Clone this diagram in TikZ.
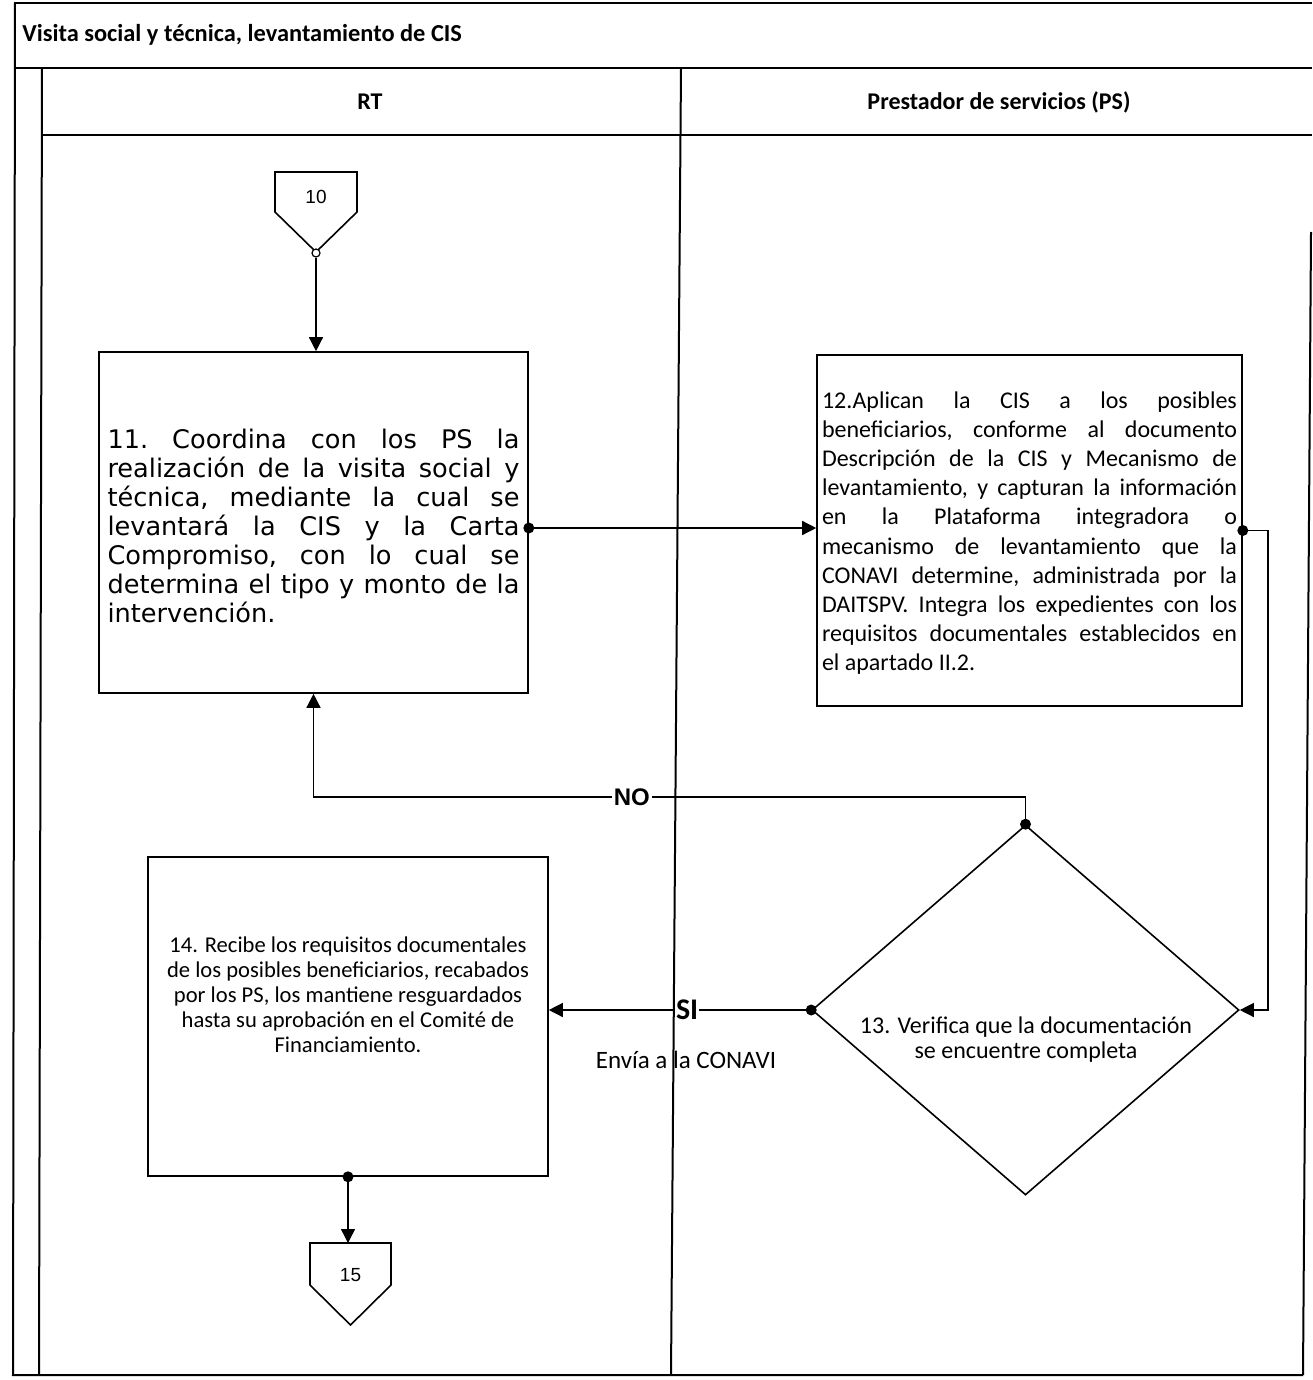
\documentclass[tikz,border=0pt]{standalone}
\usepackage{fontspec}
\setmainfont{Carlito}
\newfontfamily\widesans{DejaVu Sans}
\newfontfamily\plainsans{Liberation Sans}
\usetikzlibrary{arrows.meta,shapes.geometric,calc}

\begin{document}
\begin{tikzpicture}[x=0.5pt,y=-0.5pt,
  lane/.style={line width=1pt},
  box/.style={draw, line width=0.8pt, inner sep=0pt},
  flow/.style={line width=0.7pt, -{Triangle[length=7pt,width=7pt]}},
  dot/.style={circle, fill, inner sep=0pt, minimum size=5.5pt},
  hdr/.style={font=\bfseries\fontsize{12}{14}\selectfont},
  jtext/.style={align=justify, inner sep=0pt}]
\useasboundingbox (0,0) rectangle (1312,1380);

% pool frame, title row and lane headers
\draw[lane] (14,3) -- (1312,3);
\draw[lane] (15,3) -- (13,1375) -- (1303,1375);
\draw[lane] (15,68) -- (1312,68);
\draw[lane] (42,68) -- (39,1375);
\draw[lane] (42,135) -- (1312,135);
\draw[lane] (681,68) -- (671,1375);
\draw[lane] (1311,232) -- (1303,1375);

\node[anchor=west, inner sep=0pt, font=\bfseries\fontsize{12.2}{14}\selectfont] (title) at (22,35)
  {Visita social y técnica, levantamiento de CIS};
\node[hdr] (hRT) at (370,102) {RT};
\node[hdr] (hPS) at (999,102) {Prestador de servicios (PS)};

% off-page connector 10
\draw[line width=0.8pt] (275,172) -- (357,172) -- (357,212) -- (316,252) -- (275,212) -- cycle;
\node[font=\plainsans\fontsize{9.5}{10}\selectfont] (c10) at (316,197) {10};
\node[circle, draw, fill=white, inner sep=0pt, minimum size=4pt, line width=0.6pt] (c10o) at (316,253) {};

% step 11
\node[box, minimum width=214.5pt, minimum height=170.5pt] (b11) at (313.5,522.5) {};
\node[jtext, text width=206pt, font=\widesans\fontsize{12.8}{14.5}\selectfont] (t11) at (313.5,526)
  {\frenchspacing\tolerance=10000 \hbadness=10000
   11. Coordina con los PS la\linebreak
   realización de la visita social y\linebreak
   técnica, mediante la cual se\linebreak
   levantará la CIS y la Carta\linebreak
   Compromiso, con lo cual se\linebreak
   determina el tipo y monto de la\linebreak
   intervención.};

% step 12
\node[box, minimum width=212.5pt, minimum height=175.5pt] (b12) at (1029.5,530.5) {};
\node[jtext, text width=207.5pt, font=\fontsize{12}{14.6}\selectfont] (t12) at (1029.5,533)
  {\frenchspacing\tolerance=10000 \hbadness=10000
   12.Aplican la CIS a los posibles\linebreak
   beneficiarios, conforme al documento\linebreak
   Descripción de la CIS y Mecanismo de\linebreak
   levantamiento, y capturan la información\linebreak
   en la Plataforma integradora o\linebreak
   mecanismo de levantamiento que la\linebreak
   CONAVI determine, administrada por la\linebreak
   DAITSPV. Integra los expedientes con los\linebreak
   requisitos documentales establecidos en\linebreak
   el apartado II.2.};

% decision 13
\node[draw, diamond, line width=0.8pt, minimum width=213.5pt, minimum height=185pt, inner sep=0pt] (dm) at (1025.5,1010) {};
\node[align=center, font=\fontsize{12}{12.5}\selectfont] (t13) at (1026,1040)
  {13. Verifica que la documentación\\se encuentre completa};

% step 14
\node[box, minimum width=200pt, minimum height=159.5pt] (b14) at (348,1016.5) {};
\node[align=center, font=\fontsize{11.3}{12.5}\selectfont] (t14) at (348,995)
  {14. Recibe los requisitos documentales\\
   de los posibles beneficiarios, recabados\\
   por los PS, los mantiene resguardados\\
   hasta su aprobación en el Comité de\\
   Financiamiento.};

% off-page connector 15
\draw[line width=0.8pt] (310,1243) -- (391,1243) -- (391,1285) -- (350.5,1325) -- (310,1285) -- cycle;
\coordinate (c15top) at (350.5,1243);
\node[font=\plainsans\fontsize{9.5}{10}\selectfont] (c15) at (350.5,1275) {15};

% connectors
\coordinate (yNO) at (0,797);
\coordinate (xR) at (1268,0);

\draw[flow] (c10o.south) -- (c10o.south |- b11.north);

\node[dot] (d11) at ([yshift=-2.75pt]b11.east) {};
\draw[flow] (d11.center) -- (d11.center -| b12.west);

\node[dot] (d12) at (b12.east) {};
\draw[flow] (d12.center) -- (d12.center -| xR) |- (dm.east);

\node[dot] (dtop) at (dm.north) {};
\draw[flow] (dtop.center) -- (dtop.center |- yNO)
  -- node[pos=0.553, fill=white, inner sep=1pt, font=\plainsans\bfseries\fontsize{12}{12}\selectfont] (lNO) {NO}
  (b11.south |- yNO) -- (b11.south);

\node[dot] (dleft) at (dm.west) {};
\draw[flow] (dleft.center) -- node[pos=0.473, fill=white, inner sep=0.5pt, font=\bfseries\fontsize{15}{15}\selectfont] (lSI) {SI}
  (dleft.center -| b14.east);

\node[font=\fontsize{12.5}{14}\selectfont] (envia) at (686,1060) {Envía a la CONAVI};

\node[dot] (d14) at (b14.south) {};
\draw[flow] (d14.center) -- (d14.center |- c15top);

\end{tikzpicture}
\end{document}
